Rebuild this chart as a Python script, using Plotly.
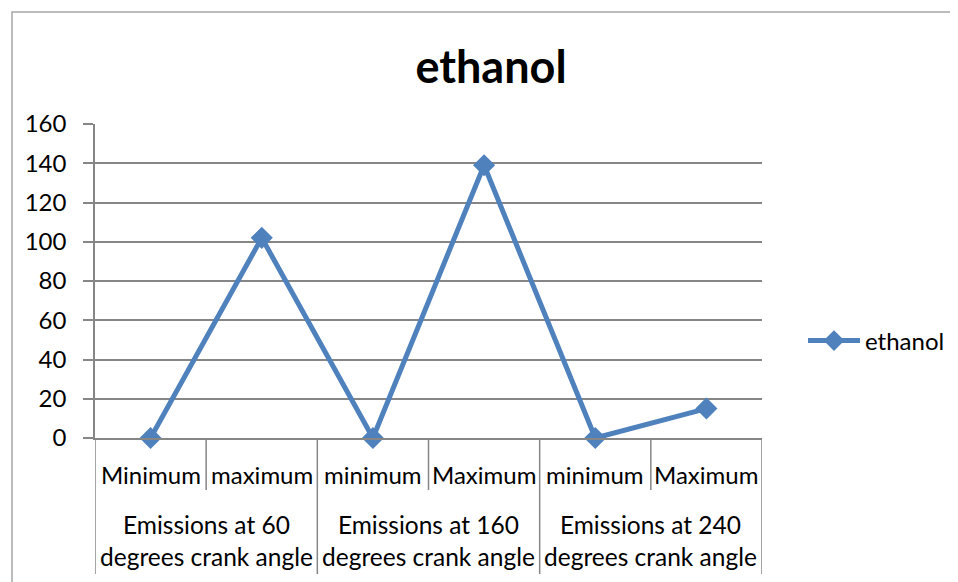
import plotly.graph_objects as go

# ---- data ----
groups = ["Emissions at 60<br>degrees crank angle",
          "Emissions at 160<br>degrees crank angle",
          "Emissions at 240<br>degrees crank angle"]
sub_labels = ["Minimum", "maximum", "minimum", "Maximum", "minimum", "Maximum"]
ethanol = [0, 102, 0, 139, 0, 15]
y_ticks = [0, 20, 40, 60, 80, 100, 120, 140, 160]

# ---- layout geometry (page pixels; 8px body margin compensated) ----
OFF = 8
W, H = 958, 582
L, R, T, B = 95, 762, 124, 438  # page pixels of the plot area
PW, PH = R - L, B - T

def py(pix):  # page pixel y -> paper y
    return (B - pix) / PH

def px(pix):  # page pixel x -> paper x
    return (pix - L) / PW

FONT = "Lato"
GRID = "#868686"
BLUE = "#4F81BD"
FS = 24

x_idx = list(range(len(sub_labels)))
per_group = len(sub_labels) // len(groups)

fig = go.Figure()
fig.add_trace(go.Scatter(
    x=x_idx, y=ethanol, mode="lines+markers", name="ethanol",
    line=dict(color=BLUE, width=5),
    marker=dict(symbol="diamond", size=17, color=BLUE),
    cliponaxis=False,
))

shapes = []
annotations = []
for g in range(len(groups)):
    for k in range(1, per_group):
        xb = g * per_group + k - 0.5
        shapes.append(dict(type="line", xref="x", yref="paper", x0=xb, x1=xb,
                           y0=0, y1=py(490), line=dict(color=GRID, width=1.5)))
for g in range(len(groups) + 1):
    xb = g * per_group - 0.5
    shapes.append(dict(type="line", xref="x", yref="paper", x0=xb, x1=xb,
                       y0=0, y1=py(574), line=dict(color=GRID, width=1.5)))
shapes.append(dict(type="path", xref="paper", yref="paper",
                   path=f"M {px(12)} {py(600)} L {px(12)} {py(12)} L {px(1000)} {py(12)}",
                   line=dict(color="#a6a6a6", width=1.5)))

for i, lab in enumerate(sub_labels):
    annotations.append(dict(x=i, y=py(474), xref="x", yref="paper", text=lab,
                            showarrow=False, font=dict(family=FONT, size=FS, color="black"),
                            xanchor="center", yanchor="middle"))
for g, lab in enumerate(groups):
    annotations.append(dict(x=g * per_group + (per_group - 1) / 2, y=py(540),
                            xref="x", yref="paper", text=lab, showarrow=False,
                            font=dict(family=FONT, size=24.5, color="black"),
                            xanchor="center", yanchor="middle"))

fig.update_layout(
    width=W, height=H,
    margin=dict(l=L - OFF, r=W - (R - OFF), t=T - OFF, b=H - (B - OFF), pad=0),
    paper_bgcolor="white", plot_bgcolor="white",
    title=dict(text="<b>ethanol</b>", x=(491 - OFF) / W, xanchor="center",
               y=1 - (67 - OFF) / H, yanchor="middle",
               font=dict(family=FONT, size=45, color="black")),
    showlegend=True,
    legend=dict(x=px(803), xanchor="left", y=py(341), yanchor="middle",
                itemwidth=52,
                font=dict(family=FONT, size=FS, color="black"),
                bgcolor="rgba(0,0,0,0)"),
    xaxis=dict(range=[-0.5, len(sub_labels) - 0.5], showticklabels=False,
               showgrid=False, zeroline=False, showline=True,
               linecolor=GRID, linewidth=1.5, ticks="", fixedrange=True),
    yaxis=dict(range=[0, 160], tickvals=y_ticks, ticks="outside", ticklen=10,
               tickcolor=GRID, tickwidth=1.5, showline=True, linecolor=GRID,
               linewidth=1.5, showgrid=True, gridcolor=GRID, gridwidth=1.5,
               zeroline=False, ticklabelstandoff=12,
               tickfont=dict(family=FONT, size=24, color="black")),
    shapes=shapes, annotations=annotations,
)

fig.write_html("out.html")
